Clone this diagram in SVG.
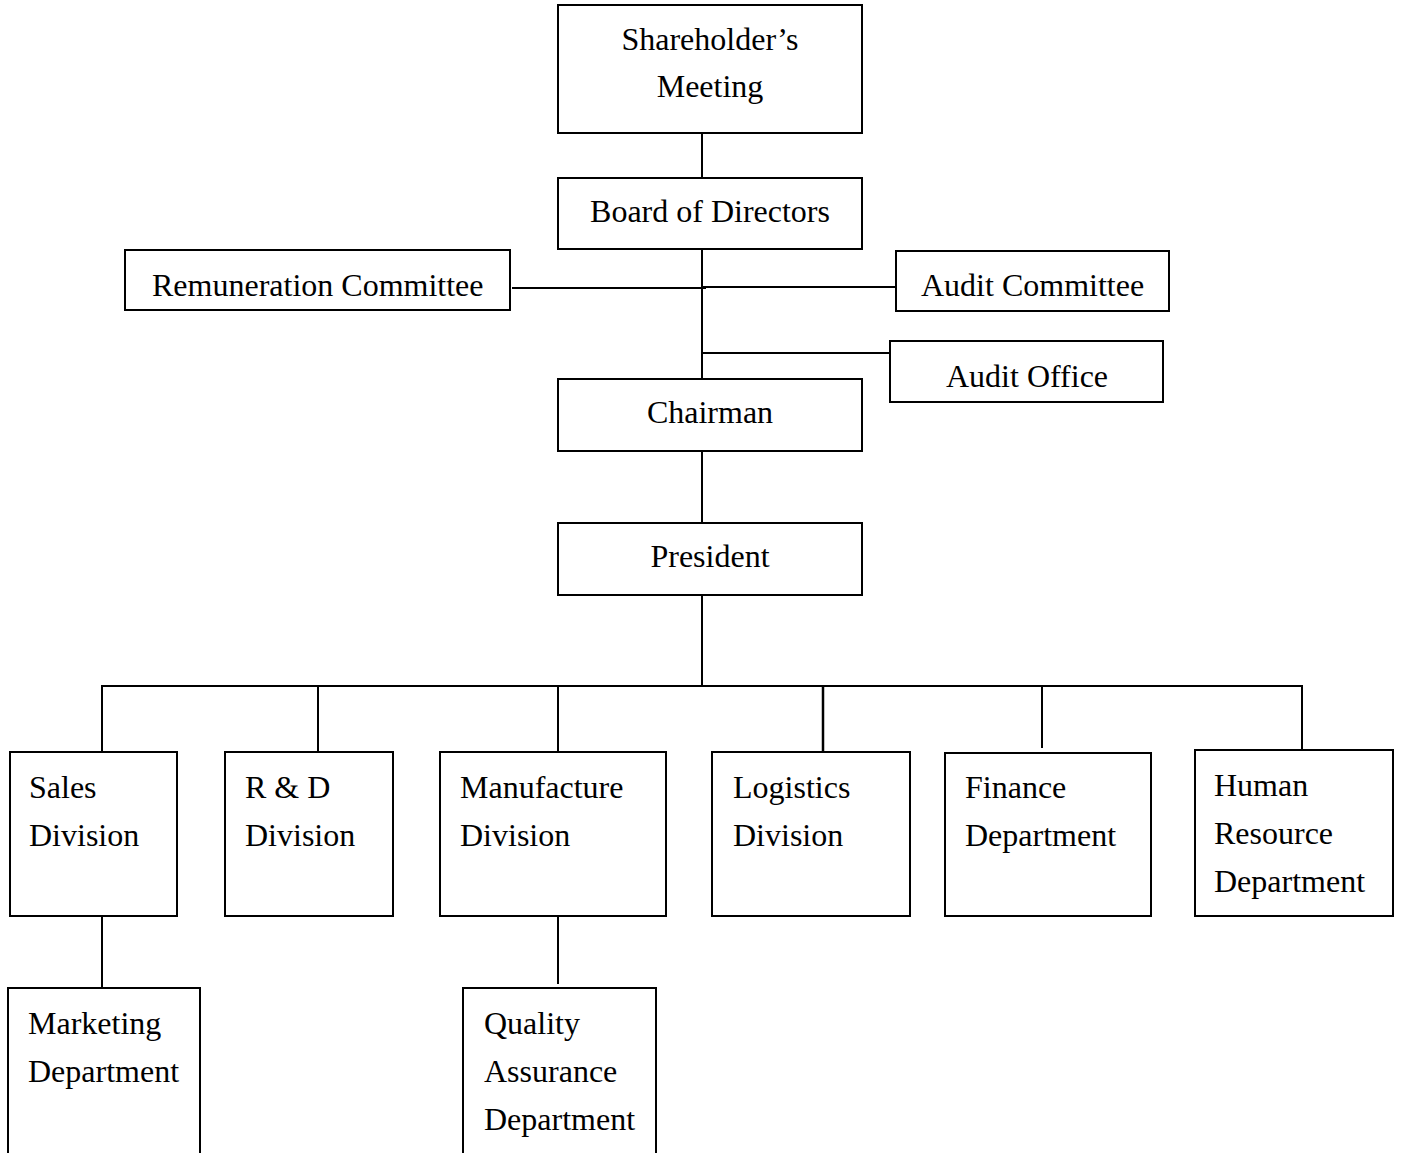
<svg xmlns="http://www.w3.org/2000/svg" width="1402" height="1153" viewBox="0 0 1402 1153">
<style>
rect{fill:#fff;stroke:#000;stroke-width:2}
text{font-family:"Liberation Serif","Times New Roman",serif;font-size:32px;fill:#000}
.c{text-anchor:middle}
#connectors line{stroke:#000;stroke-width:2}
</style>
<rect x="0" y="0" width="1402" height="1153" style="stroke:none"/>
<g id="connectors">
<line x1="702" y1="133" x2="702" y2="178"/>
<line x1="702" y1="249" x2="702" y2="379"/>
<line x1="512" y1="288" x2="706" y2="288"/>
<line x1="702" y1="287" x2="896" y2="287"/>
<line x1="702" y1="353" x2="890" y2="353"/>
<line x1="702" y1="451" x2="702" y2="523"/>
<line x1="702" y1="595" x2="702" y2="686"/>
<line x1="101" y1="686" x2="1303" y2="686"/>
<line x1="102" y1="686" x2="102" y2="752"/>
<line x1="318" y1="686" x2="318" y2="752"/>
<line x1="558" y1="686" x2="558" y2="752"/>
<line x1="823" y1="686" x2="823" y2="752" style="stroke-width:2.5"/>
<line x1="1042" y1="686" x2="1042" y2="748"/>
<line x1="1302" y1="686" x2="1302" y2="750"/>
<line x1="102" y1="916" x2="102" y2="988"/>
<line x1="558" y1="916" x2="558" y2="984"/>
</g>
<g id="shareholders-meeting"><rect x="558" y="5" width="304" height="128"/><text class="c" x="710" y="50">Shareholder’s</text><text class="c" x="710" y="97">Meeting</text></g>
<g id="board-of-directors"><rect x="558" y="178" width="304" height="71"/><text class="c" x="710" y="222">Board of Directors</text></g>
<g id="remuneration-committee"><rect x="125" y="250" width="385" height="60"/><text x="152" y="296">Remuneration Committee</text></g>
<g id="audit-committee"><rect x="896" y="251" width="273" height="60"/><text x="921" y="296">Audit Committee</text></g>
<g id="audit-office"><rect x="890" y="341" width="273" height="61"/><text x="946" y="387">Audit Office</text></g>
<g id="chairman"><rect x="558" y="379" width="304" height="72"/><text class="c" x="710" y="423">Chairman</text></g>
<g id="president"><rect x="558" y="523" width="304" height="72"/><text class="c" x="710" y="567">President</text></g>
<g id="sales-division"><rect x="10" y="752" width="167" height="164"/><text x="29" y="798">Sales</text><text x="29" y="846">Division</text></g>
<g id="rd-division"><rect x="225" y="752" width="168" height="164"/><text x="245" y="798">R &amp; D</text><text x="245" y="846">Division</text></g>
<g id="manufacture-division"><rect x="440" y="752" width="226" height="164"/><text x="460" y="798">Manufacture</text><text x="460" y="846">Division</text></g>
<g id="logistics-division"><rect x="712" y="752" width="198" height="164"/><text x="733" y="798">Logistics</text><text x="733" y="846">Division</text></g>
<g id="finance-department"><rect x="945" y="753" width="206" height="163"/><text x="965" y="798">Finance</text><text x="965" y="846">Department</text></g>
<g id="human-resource-department"><rect x="1195" y="750" width="198" height="166"/><text x="1214" y="796">Human</text><text x="1214" y="844">Resource</text><text x="1214" y="892">Department</text></g>
<g id="marketing-department"><rect x="8" y="988" width="192" height="180"/><text x="28" y="1034">Marketing</text><text x="28" y="1082">Department</text></g>
<g id="quality-assurance-department"><rect x="463" y="988" width="193" height="180"/><text x="484" y="1034">Quality</text><text x="484" y="1082">Assurance</text><text x="484" y="1130">Department</text></g>
</svg>
